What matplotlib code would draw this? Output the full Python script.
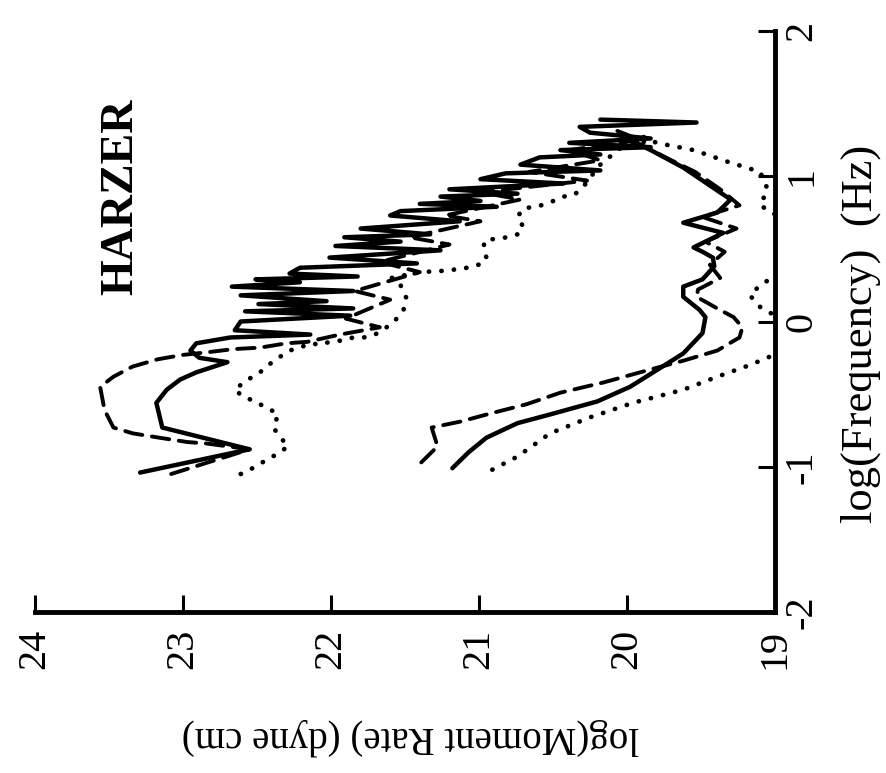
# HARZER source spectra, figure is shown turned 90 degrees
import matplotlib
matplotlib.use("Agg")
import matplotlib.pyplot as plt

plt.rcParams['font.family'] = ['Liberation Serif', 'DejaVu Serif']

# upper group (source), log f and log moment rate
s1_f = [-1.04, -0.88, -0.73, -0.56, -0.47, -0.40, -0.35, -0.28, -0.25, -0.20, -0.15, -0.11,
        -0.09, -0.06, 0.00, 0.04, 0.07, 0.09, 0.12, 0.14, 0.18, 0.21, 0.24, 0.27, 0.29, 0.31,
        0.33, 0.37, 0.40, 0.44, 0.49, 0.52, 0.55, 0.58, 0.60, 0.64, 0.69, 0.73, 0.76, 0.79,
        0.81, 0.83, 0.86, 0.88, 0.91, 0.95, 0.98, 1.02, 1.04, 1.08, 1.13, 1.15, 1.18, 1.20,
        1.23, 1.26, 1.30, 1.34, 1.37, 1.39]
s1_m = [23.29, 22.55, 23.14, 23.18, 23.11, 23.02, 22.91, 22.70, 22.89, 22.95, 22.91, 22.68,
        22.14, 22.65, 22.61, 21.87, 22.58, 21.85, 22.49, 22.03, 22.61, 21.85, 22.67, 22.21, 22.51, 21.82,
        22.28, 22.21, 21.42, 22.01, 21.26, 21.97, 21.53, 21.91, 21.33, 21.80, 21.13, 21.60, 21.53, 20.88,
        21.40, 20.99, 21.26, 20.74, 21.20, 20.43, 20.99, 20.82, 20.18, 20.72, 20.59, 20.18, 20.45, 19.84,
        20.39, 19.84, 20.25, 20.32, 19.53, 20.18]

d1_f = [-1.05, -0.88, -0.84, -0.83, -0.80, -0.77, -0.73, -0.61, -0.45, -0.38, -0.31, -0.26,
        -0.23, -0.21, -0.19, -0.18, -0.15, -0.14, -0.09, -0.04, 0.02, 0.15, 0.21, 0.34, 0.41,
        0.53, 0.58, 0.69, 0.73, 0.84, 0.89, 0.97, 1.03, 1.11, 1.18, 1.25, 1.33]
d1_m = [23.08, 22.55, 22.84, 22.97, 23.16, 23.34, 23.47, 23.53, 23.56, 23.47, 23.34, 23.17,
        23.00, 22.82, 22.66, 22.48, 22.30, 22.16, 21.94, 21.67, 21.90, 21.60, 21.84, 21.40, 21.67,
        21.20, 21.47, 20.99, 21.23, 20.72, 20.99, 20.27, 20.66, 20.18, 20.39, 19.91, 20.11]

p1_f = [-1.05, -1.01, -0.95, -0.91, -0.86, -0.80, -0.73, -0.68, -0.63, -0.60, -0.55, -0.52,
        -0.47, -0.42, -0.38, -0.35, -0.29, -0.24, -0.20, -0.18, -0.15, -0.16, -0.14, -0.13,
        -0.11, -0.11, -0.10, -0.07, -0.01, 0.08, 0.16, 0.25, 0.30, 0.34, 0.35, 0.37, 0.40,
        0.44, 0.51, 0.56, 0.57, 0.58, 0.60, 0.65, 0.72, 0.78, 0.79, 0.82, 0.86, 0.87, 0.92,
        0.99, 1.08, 1.19, 1.25]
p1_m = [22.61, 22.53, 22.43, 22.36, 22.29, 22.34, 22.39, 22.37, 22.36, 22.43, 22.51, 22.59,
        22.65, 22.59, 22.53, 22.48, 22.41, 22.34, 22.28, 22.21, 22.14, 22.07, 22.01, 21.92,
        21.85, 21.78, 21.72, 21.67, 21.58, 21.51, 21.49, 21.53, 21.59, 21.40, 21.22, 21.08, 20.97,
        20.95, 20.97, 20.96, 20.88, 20.81, 20.74, 20.70, 20.74, 20.70, 20.61, 20.52, 20.43, 20.36, 20.30,
        20.25, 20.18, 20.05, 19.84]

# lower group (noise)
s2_f = [-1.01, -0.90, -0.80, -0.70, -0.64, -0.55, -0.45, -0.31, -0.22, -0.08, 0.03, 0.08,
        0.17, 0.24, 0.29, 0.38, 0.44, 0.48, 0.51, 0.61, 0.68, 0.75, 0.84, 0.95, 1.06, 1.18, 1.25]
s2_m = [21.18, 21.07, 20.95, 20.74, 20.52, 20.20, 19.98, 19.76, 19.62, 19.49, 19.47, 19.51,
        19.62, 19.62, 19.49, 19.41, 19.42, 19.49, 19.55, 19.35, 19.62, 19.39, 19.30, 19.46, 19.62, 19.84, 19.98]

d2_f = [-0.97, -0.86, -0.73, -0.69, -0.63, -0.57, -0.49, -0.42, -0.33, -0.27, -0.20, -0.11,
        -0.04, 0.03, 0.09, 0.17, 0.22, 0.30, 0.39, 0.48, 0.55, 0.64, 0.72, 0.80, 0.91, 1.03,
        1.13, 1.22]
d2_m = [21.39, 21.28, 21.32, 21.13, 20.91, 20.68, 20.45, 20.16, 19.84, 19.62, 19.39, 19.24,
        19.22, 19.28, 19.39, 19.53, 19.52, 19.37, 19.44, 19.34, 19.47, 19.26, 19.49, 19.24, 19.37, 19.54,
        19.74, 19.91]

p2_f = [-1.02, -0.93, -0.77, -0.66, -0.56, -0.47, -0.38, -0.30, -0.24, -0.06, 0.10, 0.18,
        0.25, 0.42, 0.63, 0.80, 0.91, 1.03, 1.10, 1.18, 1.23, 1.28]
p2_m = [20.91, 20.74, 20.52, 20.25, 19.96, 19.62, 19.39, 19.17, 19.03, 18.83, 19.10, 19.17,
        19.10, 18.83, 18.83, 19.10, 19.05, 19.10, 19.32, 19.55, 19.80, 19.91]

m_ticks = [24, 23, 22, 21, 20, 19]
f_ticks = [-2, -1, 0, 1, 2]

fig = plt.figure(figsize=(8.86, 7.73), dpi=100)
ax = fig.add_axes([35/886, 1-612/773, 740/886, 581/773])

dash = dict(color='black', lw=2.8, dashes=(4.5, 2.5), dash_capstyle='round')
dot = dict(color='black', lw=3.4, dashes=(0.05, 2.6), dash_capstyle='round')
sol = dict(color='black', lw=3.2, solid_joinstyle='round', solid_capstyle='round')

ax.plot(s1_m, s1_f, **sol)
ax.plot(d1_m, d1_f, **dash)
ax.plot(p1_m, p1_f, **dot)
ax.plot(s2_m, s2_f, **sol)
ax.plot(d2_m, d2_f, **dash)
ax.plot(p2_m, p2_f, **dot)

ax.set_xlim(24, 19)
ax.set_ylim(-2, 2)

for side in ['left', 'top']:
    ax.spines[side].set_visible(False)
for side in ['bottom', 'right']:
    ax.spines[side].set_linewidth(3.5)

ax.set_xticks(m_ticks)
ax.set_xticklabels([str(t) for t in m_ticks], rotation=90, fontsize=29)
ax.yaxis.tick_right()
ax.set_yticks(f_ticks)
ax.set_yticklabels([str(t) for t in f_ticks], rotation=90, fontsize=29, va='center')
ax.tick_params(axis='x', direction='in', length=12, width=2.2, pad=12)
ax.tick_params(axis='y', direction='in', length=12, width=2.2, pad=6)

fig.text(410/886, 1-737/773, 'log(Moment Rate) (dyne cm)', rotation=180,
         ha='center', va='center', fontsize=28)
fig.text(861/886, 1-334/773, 'log(Frequency)  (Hz)', rotation=90,
         ha='center', va='center', fontsize=32)
ax.text(0.116, 0.714, 'HARZER', transform=ax.transAxes, rotation=90,
        ha='center', va='center', fontsize=33, fontweight='bold')

fig.savefig('out.png', dpi=100)
